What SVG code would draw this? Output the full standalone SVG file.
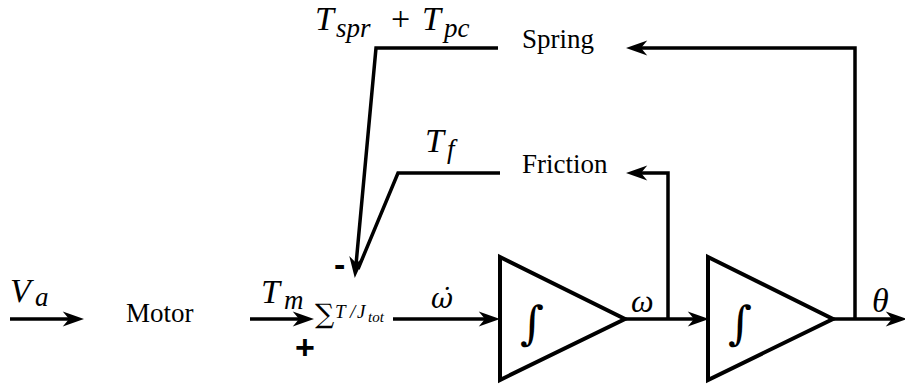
<svg xmlns="http://www.w3.org/2000/svg" width="905" height="387" viewBox="0 0 905 387">
<style>
.ln{fill:none;stroke:#000;stroke-width:3.5;stroke-linejoin:miter}
.tri{fill:none;stroke:#000;stroke-width:4;stroke-linejoin:miter}
.lbl{font-family:"Liberation Serif",serif;font-size:27px;fill:#000}
.m{font-family:"Liberation Serif",serif;font-style:italic;font-size:34px;fill:#000}
.s{font-family:"Liberation Serif",serif;font-style:italic;font-size:27px;fill:#000}
.sg{font-family:"Liberation Sans",sans-serif;font-weight:bold;font-size:34px;fill:#000}
.sm{font-family:"Liberation Serif",serif;font-style:italic;font-size:19px;fill:#000}
</style>
<defs>
<marker id="ah" markerUnits="userSpaceOnUse" markerWidth="30" markerHeight="20" viewBox="-12 -8 22 16" refX="0" refY="0" orient="auto" overflow="visible">
<path d="M8,0 L-9,-6 L-4,0 L-9,6 Z" fill="#000"/>
</marker>
</defs>
<g id="connectors">
<path class="ln" d="M10,319 L74,319" marker-end="url(#ah)"/>
<path class="ln" d="M250,319 L304,319" marker-end="url(#ah)"/>
<path class="ln" d="M393,319 L490,319" marker-end="url(#ah)"/>
<path class="ln" d="M625,319 L699,319" marker-end="url(#ah)"/>
<path class="ln" d="M833,319 L897,319" marker-end="url(#ah)"/>
<path class="ln" d="M668,319 L668,173 L636,173" marker-end="url(#ah)"/>
<path class="ln" d="M855,319 L855,48 L636,48" marker-end="url(#ah)"/>
<path class="ln" d="M500,173 L398,173 L358,269"/>
<path class="ln" d="M498,48 L376,48 L355.7,268" marker-end="url(#ah)"/>
</g>
<g id="input-va">
<text class="m" x="10" y="302">V</text><text class="s" x="35" y="306">a</text>
</g>
<g id="motor">
<text class="lbl" x="126" y="322">Motor</text>
</g>
<g id="label-tm">
<text class="m" x="261" y="303">T</text><text class="s" x="284" y="309">m</text>
</g>
<g id="sum">
<text font-family="'DejaVu Serif',serif" font-size="27" x="315" y="323">∑</text>
<text class="sm" x="335" y="318">T</text>
<text class="sm" x="350" y="318">/</text>
<text class="sm" x="357" y="318">J</text>
<text font-family="'Liberation Serif',serif" font-style="italic" font-size="15" x="368" y="322">tot</text>
<text class="sg" x="305" y="359" text-anchor="middle">+</text>
<text class="sg" x="334" y="276">-</text>
</g>
<g id="label-wdot">
<text font-family="'DejaVu Serif',serif" font-style="italic" font-size="27" x="431" y="308">ω̇</text>
</g>
<g id="integrator1">
<path class="tri" d="M500,257 L625,319 L500,380 Z"/>
<text font-family="'DejaVu Serif',serif" font-size="46" x="532" y="339" text-anchor="middle">∫</text>
</g>
<g id="label-w">
<text font-family="'Liberation Serif',serif" font-style="italic" font-size="32" x="631" y="312">ω</text>
</g>
<g id="integrator2">
<path class="tri" d="M708,257 L833,319 L708,380 Z"/>
<text font-family="'DejaVu Serif',serif" font-size="46" x="740" y="339" text-anchor="middle">∫</text>
</g>
<g id="label-theta">
<text class="m" x="872" y="312">θ</text>
</g>
<g id="friction">
<text class="lbl" x="522" y="173">Friction</text>
</g>
<g id="label-tf">
<text class="m" x="425" y="152">T</text><text class="s" x="447" y="158">f</text>
</g>
<g id="spring">
<text class="lbl" x="522" y="48">Spring</text>
</g>
<g id="label-tspr">
<text class="m" x="315" y="30">T</text><text class="s" x="336" y="37">spr</text>
<text font-family="'Liberation Serif',serif" font-size="34" x="391" y="30">+</text>
<text class="m" x="422" y="30">T</text><text class="s" x="444" y="37">pc</text>
</g>
</svg>
